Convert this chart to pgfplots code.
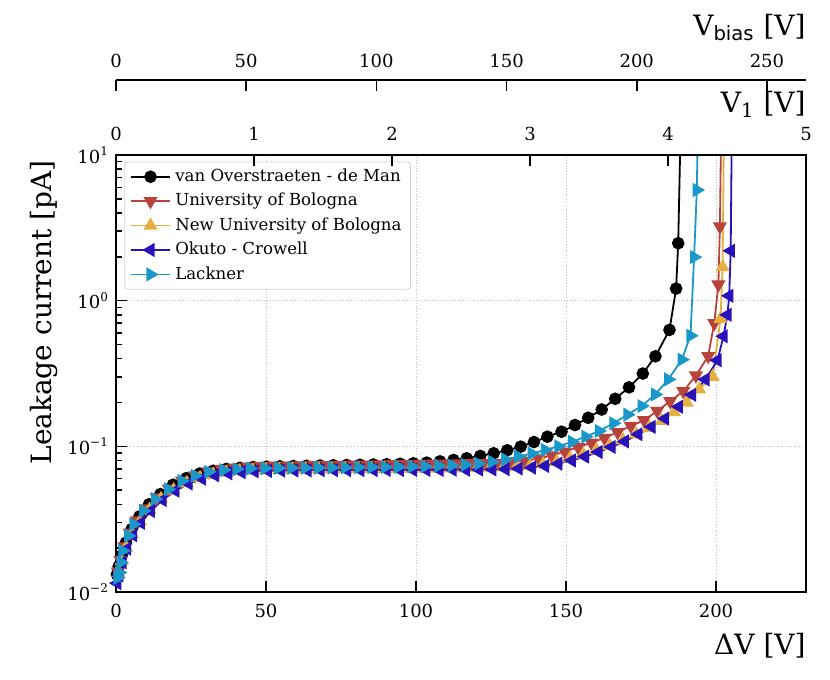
\documentclass[border=0pt]{standalone}
\usepackage{fontspec}
\setmainfont{DejaVu Serif}
\setsansfont{DejaVu Sans}
\usepackage{pgfplots}
\pgfplotsset{compat=1.18}
\definecolor{cred}{HTML}{B8433D}
\definecolor{cyel}{HTML}{E5B040}
\definecolor{cblue}{HTML}{2A12BA}
\definecolor{ccyan}{HTML}{1A98CA}
\pgfplotsset{
  common/.style={
    at={(0,0)}, anchor=south west, scale only axis, width=345pt,
    tick align=inside,
    major tick length=5.5pt, minor tick length=3pt,
    every tick/.style={black, line width=0.8pt},
    axis line style={-, line width=1.1pt},
    tick label style={font=\fontsize{9}{11}\selectfont},
    /pgf/number format/assume math mode=true,
  },
}
\begin{document}
\begin{tikzpicture}
\useasboundingbox (-58pt,-44pt) rectangle (357pt,296pt);
\begin{axis}[common, height=218.5pt,
  xmin=0, xmax=230, ymode=log, ymin=0.01, ymax=10,
  xtick={0,50,100,150,200}, xtick pos=left, ytick pos=left,
  xticklabel style={yshift=-2.5pt},
  ytick={0.01,0.1,1,10},
  yticklabels={10\textsuperscript{−2},10\textsuperscript{−1},10\textsuperscript{0},10\textsuperscript{1}},
  grid=major, major grid style={densely dotted, gray!50, line width=0.4pt},
  xlabel={ΔV [V]},
  xlabel style={at={(ticklabel cs:1)}, anchor=north east, inner sep=0pt, yshift=-4pt, font=\fontsize{14}{16}\selectfont},
  ylabel={Leakage current [pA]},
  ylabel style={at={(ticklabel cs:1)}, anchor=south east, inner sep=0pt, yshift=1.5pt, xshift=-2.5pt, font=\fontsize{14}{16}\selectfont},
  legend style={at={(0.012,0.985)}, anchor=north west, draw=gray!35, rounded corners=1.5pt,
    font=\fontsize{8.3}{10}\selectfont, inner xsep=2.5pt, inner ysep=1.5pt, row sep=0.4pt},
  legend cell align=left,
  legend image code/.code={\draw[mark repeat=2,mark phase=2] plot coordinates {(0cm,0cm) (0.35cm,0cm) (0.7cm,0cm)};},
  every axis plot/.append style={line width=0.9pt},
]
\addplot[black, mark=*, mark size=2.7pt] coordinates {
(0.3,0.0132) (0.9,0.0150) (1.9,0.0178) (3.3,0.0218) (5.2,0.0270) (7.8,0.0330) (11.0,0.0400) (14.8,0.0470) (19.0,0.0545) (23.5,0.0605) (27.9,0.0650) (32.4,0.0680) (36.8,0.0700) (41.3,0.0712) (45.7,0.0720) (50.2,0.0725) (54.6,0.0729) (59.1,0.0732) (63.5,0.0735) (68.0,0.0738) (72.4,0.0741) (76.9,0.0744) (81.3,0.0747) (85.8,0.0750) (90.2,0.0754) (94.7,0.0759) (99.1,0.0765) (103.6,0.0773) (108.0,0.0789) (112.5,0.0806) (116.9,0.0828) (121.4,0.0859) (125.9,0.0896) (130.4,0.0940) (134.9,0.0995) (139.3,0.1070) (143.8,0.1165) (148.5,0.1260) (153.0,0.1400) (157.4,0.1570) (161.9,0.1790) (166.4,0.2120) (171.0,0.2540) (175.6,0.3160) (179.8,0.4150) (184.5,0.6300) (186.7,1.2100) (187.4,2.4800) (188.2,15)
};
\addlegendentry{van Overstraeten - de Man}
\addplot[cred, mark=triangle*, mark size=3.2pt, mark options={rotate=180}] coordinates {
(0.6,0.0138) (1.5,0.0165) (2.8,0.0205) (4.6,0.0255) (7.0,0.0310) (10.0,0.0375) (13.6,0.0445) (17.6,0.0512) (22.0,0.0580) (26.4,0.0632) (30.8,0.0672) (35.2,0.0698) (39.6,0.0714) (44.0,0.0724) (48.4,0.0731) (52.8,0.0735) (57.2,0.0737) (61.6,0.0739) (66.0,0.0741) (70.4,0.0743) (74.8,0.0745) (79.2,0.0747) (83.6,0.0749) (88.0,0.0751) (92.4,0.0753) (96.8,0.0755) (101.2,0.0757) (105.6,0.0759) (110.0,0.0761) (114.4,0.0763) (118.8,0.0765) (123.2,0.0767) (127.6,0.0770) (132.0,0.0776) (136.4,0.0795) (140.8,0.0825) (145.2,0.0865) (149.6,0.0920) (154.0,0.0985) (158.4,0.1060) (162.8,0.1140) (167.2,0.1250) (171.6,0.1380) (176.0,0.1510) (180.4,0.1750) (184.7,0.2040) (189.1,0.2390) (193.3,0.3060) (197.4,0.4160) (199.4,0.7000) (200.8,1.2900) (201.3,3.2300) (201.9,30)
};
\addlegendentry{University of Bologna}
\addplot[cyel, mark=triangle*, mark size=3.2pt] coordinates {
(0.8,0.0135) (1.9,0.0163) (3.4,0.0202) (5.4,0.0250) (8.0,0.0305) (11.2,0.0367) (15.0,0.0435) (19.2,0.0500) (23.6,0.0560) (28.0,0.0605) (32.4,0.0638) (36.8,0.0660) (41.2,0.0673) (45.6,0.0682) (50.0,0.0687) (54.4,0.0690) (58.8,0.0692) (63.2,0.0694) (67.6,0.0695) (72.0,0.0696) (76.4,0.0697) (80.8,0.0698) (85.2,0.0699) (89.6,0.0700) (94.0,0.0701) (98.4,0.0702) (102.8,0.0703) (107.2,0.0704) (111.6,0.0706) (116.0,0.0708) (120.4,0.0710) (124.8,0.0714) (129.2,0.0719) (133.6,0.0725) (138.0,0.0733) (142.4,0.0753) (146.9,0.0780) (151.3,0.0824) (155.8,0.0880) (160.2,0.0940) (164.6,0.1010) (169.0,0.1100) (173.4,0.1210) (177.8,0.1340) (181.9,0.1500) (186.0,0.1720) (190.2,0.2000) (194.4,0.2460) (198.9,0.3000) (201.5,0.7500) (202.2,1.7000) (202.8,30)
};
\addlegendentry{New University of Bologna}
\addplot[cblue, mark=triangle*, mark size=3.2pt, mark options={rotate=90}] coordinates {
(0.4,0.0115) (1.1,0.0130) (2.2,0.0160) (3.7,0.0198) (5.7,0.0245) (8.3,0.0298) (11.6,0.0360) (15.5,0.0428) (19.8,0.0495) (24.2,0.0555) (28.6,0.0600) (33.0,0.0632) (37.4,0.0652) (41.8,0.0665) (46.2,0.0673) (50.6,0.0678) (55.0,0.0681) (59.4,0.0683) (63.8,0.0684) (68.2,0.0685) (72.6,0.0686) (77.0,0.0686) (81.4,0.0687) (85.8,0.0687) (90.2,0.0688) (94.6,0.0688) (99.0,0.0688) (103.4,0.0689) (107.8,0.0689) (112.2,0.0690) (116.6,0.0691) (121.0,0.0692) (125.4,0.0694) (129.8,0.0697) (134.2,0.0703) (138.6,0.0714) (143.0,0.0733) (147.4,0.0760) (151.9,0.0800) (156.3,0.0850) (160.8,0.0914) (165.2,0.0990) (169.6,0.1080) (174.1,0.1210) (178.5,0.1360) (183.0,0.1550) (187.6,0.1870) (192.0,0.2260) (196.5,0.2880) (200.5,0.3900) (202.5,0.5700) (203.8,0.8000) (204.4,1.0800) (204.9,2.2000) (205.4,30)
};
\addlegendentry{Okuto - Crowell}
\addplot[ccyan, mark=triangle*, mark size=3.2pt, mark options={rotate=-90}] coordinates {
(0.5,0.0125) (1.1,0.0136) (1.6,0.0160) (2.2,0.0192) (4.1,0.0243) (5.8,0.0292) (9.1,0.0361) (13.0,0.0434) (17.4,0.0507) (21.9,0.0580) (26.3,0.0628) (30.8,0.0668) (35.8,0.0688) (40.2,0.0698) (44.7,0.0705) (49.6,0.0708) (54.1,0.0710) (58.5,0.0711) (63.0,0.0712) (67.4,0.0713) (71.9,0.0714) (76.3,0.0716) (80.8,0.0718) (85.2,0.0720) (89.7,0.0722) (94.1,0.0724) (98.6,0.0727) (103.0,0.0730) (107.5,0.0735) (111.9,0.0740) (116.4,0.0748) (120.8,0.0762) (125.3,0.0785) (129.7,0.0815) (134.1,0.0850) (138.6,0.0893) (143.0,0.0945) (147.5,0.1000) (152.0,0.1075) (156.5,0.1165) (161.0,0.1275) (165.8,0.1440) (170.5,0.1650) (175.2,0.1890) (179.7,0.2270) (184.1,0.2880) (188.6,0.3940) (191.5,0.5750) (192.7,1.9900) (193.6,5.7500) (194.3,40)
};
\addlegendentry{Lackner}
\end{axis}
\begin{axis}[common, height=218.5pt,
  xmin=0, xmax=5, ymin=0, ymax=1,
  axis x line*=top, axis y line=none,
  xtick={0,1,2,3,4,5},
  xticklabel style={yshift=3.5pt},
  xlabel={V\textsubscript{1} [V]},
  xlabel style={at={(ticklabel cs:1)}, anchor=south east, inner sep=0pt, yshift=1.5pt, font=\fontsize{14}{16}\selectfont},
]
\end{axis}
\begin{axis}[common, height=256pt,
  xmin=0, xmax=265, ymin=0, ymax=1,
  axis x line*=top, axis y line=none,
  xtick={0,50,100,150,200,250},
  xticklabel style={yshift=2.5pt},
  xlabel={V\textsubscript{\sffamily bias} [V]},
  xlabel style={at={(ticklabel cs:1)}, anchor=south east, inner sep=0pt, yshift=3pt, font=\fontsize{14}{16}\selectfont},
]
\end{axis}
\end{tikzpicture}
\end{document}
